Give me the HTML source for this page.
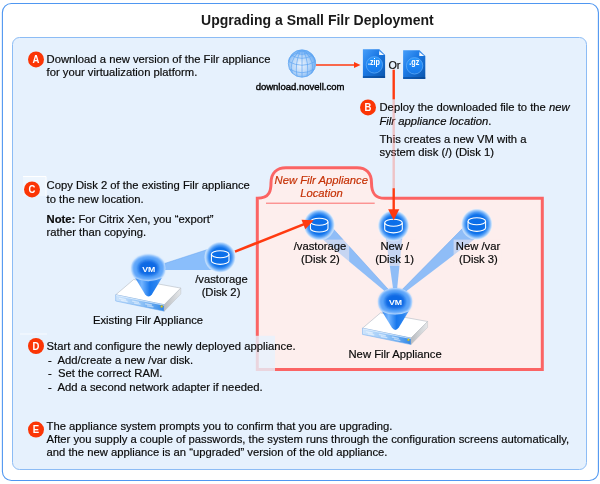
<!DOCTYPE html>
<html>
<head>
<meta charset="utf-8">
<title>Upgrading a Small Filr Deployment</title>
<style>
html,body{margin:0;padding:0;background:#fff;}
body{width:600px;height:484px;overflow:hidden;font-family:"Liberation Sans",sans-serif;}
svg{display:block;will-change:transform;opacity:0.999;}
text{font-family:"Liberation Sans",sans-serif;}
.t{font-size:11.25px;fill:#0a0a0a;stroke:#0a0a0a;stroke-width:0.18px;}
.b{font-weight:bold;}
.i{font-style:italic;}
.lbl{font-size:10.6px;font-weight:bold;fill:#fff;text-anchor:middle;}
</style>
</head>
<body>
<svg width="600" height="484" viewBox="0 0 600 484">
<defs>
  <radialGradient id="gDisk" cx="50%" cy="50%" r="50%">
    <stop offset="0" stop-color="#0a6de8"/>
    <stop offset="0.6" stop-color="#0f72ea"/>
    <stop offset="0.76" stop-color="#4f9cf6"/>
    <stop offset="0.9" stop-color="#a9d0fb"/>
    <stop offset="1" stop-color="#eaf4fe" stop-opacity="0.55"/>
  </radialGradient>
  <radialGradient id="gVM" cx="50%" cy="50%" r="50%">
    <stop offset="0" stop-color="#0a62dc"/>
    <stop offset="0.5" stop-color="#0f6fe8"/>
    <stop offset="0.72" stop-color="#4a9af6"/>
    <stop offset="0.9" stop-color="#9cc9fb"/>
    <stop offset="1" stop-color="#d8eafd" stop-opacity="0.5"/>
  </radialGradient>
  <linearGradient id="gCone" x1="0" y1="0" x2="1" y2="0">
    <stop offset="0" stop-color="#3587ee"/>
    <stop offset="0.25" stop-color="#74b5ff"/>
    <stop offset="0.55" stop-color="#1877ec"/>
    <stop offset="0.8" stop-color="#2a84f0"/>
    <stop offset="1" stop-color="#5aa2f6"/>
  </linearGradient>
  <linearGradient id="gFront" x1="0" y1="0" x2="1" y2="0">
    <stop offset="0" stop-color="#cfe5fc"/>
    <stop offset="0.55" stop-color="#8cc0f6"/>
    <stop offset="1" stop-color="#2f86e6"/>
  </linearGradient>
  <linearGradient id="gSide" x1="0" y1="0" x2="1" y2="0">
    <stop offset="0" stop-color="#b9bcc0"/>
    <stop offset="1" stop-color="#e6e8ea"/>
  </linearGradient>
  <radialGradient id="gGlobe" cx="45%" cy="55%" r="60%">
    <stop offset="0" stop-color="#eaf2fc"/>
    <stop offset="0.55" stop-color="#b5d5f8"/>
    <stop offset="1" stop-color="#5aa3f2"/>
  </radialGradient>
  <linearGradient id="gFile" x1="0" y1="0" x2="1" y2="1">
    <stop offset="0" stop-color="#479ef9"/>
    <stop offset="0.42" stop-color="#1c7ae6"/>
    <stop offset="1" stop-color="#0a55ac"/>
  </linearGradient>

  <filter id="b06" x="-20%" y="-20%" width="140%" height="140%"><feGaussianBlur stdDeviation="0.6"/></filter>
  <filter id="b12" x="-20%" y="-20%" width="140%" height="140%"><feGaussianBlur stdDeviation="1.4"/></filter>
  <filter id="b22" x="-40%" y="-40%" width="180%" height="180%"><feGaussianBlur stdDeviation="2.7"/></filter>
  <linearGradient id="gCirc" x1="0" y1="0" x2="0" y2="1">
    <stop offset="0" stop-color="#2b97fc"/>
    <stop offset="0.6" stop-color="#1a82f2"/>
    <stop offset="1" stop-color="#1878e6"/>
  </linearGradient>
  <!-- disk icon centred on 0,0 -->
  <g id="disk">
    <circle cx="0" cy="0" r="15.7" fill="url(#gDisk)"/>
    <path d="M-8.8,-3 L-8.8,3.6 A8.8,3.6 0 0 0 8.8,3.6 L8.8,-3" fill="none" stroke="#fff" stroke-width="1.1"/>
    <ellipse cx="0" cy="-3" rx="8.8" ry="3.5" fill="none" stroke="#fff" stroke-width="1.1"/>
  </g>

  <!-- VM + server, VM text centre at 0,0 -->
  <g id="vmsrv">
    <!-- server -->
    <polygon points="-32.8,26 -14.8,10.7 32.3,19.3 15.7,35.9" fill="#ffffff" stroke="#bcc3cc" stroke-width="0.7" stroke-linejoin="round"/>
    <polygon points="-32.8,26 15.7,35.9 15.7,42.4 -32.8,32.2" fill="url(#gFront)" stroke="#6aa9ee" stroke-width="0.5"/>
    <polygon points="15.7,35.9 32.3,19.3 32.3,25.2 15.7,42.4" fill="url(#gSide)" stroke="#b4b8bd" stroke-width="0.4"/>
    <path d="M-32.4,26.6 L15.5,36.4" stroke="#eef6ff" stroke-width="0.7" fill="none"/>
    <g stroke="#ffffff" stroke-opacity="0.5" stroke-width="1.3" fill="none" stroke-linecap="round">
      <path d="M-29,29.6 L-23,30.8 M-27,31.6 L-21.5,32.7"/>
      <path d="M-16,32.3 L-10,33.5 M-14,34.3 L-8.5,35.4"/>
      <path d="M-3,35 L3,36.2 M-1,37 L4.5,38.1"/>
    </g>
    <rect x="12.2" y="36.6" width="2" height="2" rx="0.6" fill="#e9d21f" stroke="#a89a20" stroke-width="0.3"/>
    <!-- cone -->
    <path d="M-13.4,9 L-3.5,25.4 Q0,30 3.5,25.4 L13.4,9 Q0,3 -13.4,9 Z" fill="url(#gCone)"/>
    <g transform="translate(-0.2,0)">
      <path d="M-17.2,-1 C-17.2,-9 -9.5,-14.3 0,-14.3 C9.5,-14.3 17.2,-9 17.2,-1 C17.2,3.5 15.8,6.8 13.4,9.2 Q0,15.6 -13.4,9.2 C-15.8,6.8 -17.2,3.5 -17.2,-1 Z" fill="#d6e9fe" filter="url(#b06)"/>
      <path transform="translate(0,-0.6) scale(0.94) translate(0,0.6)" d="M-17.2,-1 C-17.2,-9 -9.5,-14.3 0,-14.3 C9.5,-14.3 17.2,-9 17.2,-1 C17.2,3.5 15.8,6.8 13.4,9.2 Q0,15.6 -13.4,9.2 C-15.8,6.8 -17.2,3.5 -17.2,-1 Z" fill="#5ea6fa" filter="url(#b12)"/>
      <path transform="translate(0,-0.8) scale(0.6) translate(0,0.8)" d="M-17.2,-1 C-17.2,-9 -9.5,-14.3 0,-14.3 C9.5,-14.3 17.2,-9 17.2,-1 C17.2,3.5 15.8,6.8 13.4,9.2 Q0,15.6 -13.4,9.2 C-15.8,6.8 -17.2,3.5 -17.2,-1 Z" fill="#0a69e4" filter="url(#b22)"/>
    </g>
    <text transform="translate(0.2,2.9) scale(1.12,1)" font-size="7.8" font-weight="bold" fill="#fff" text-anchor="middle">VM</text>
  </g>

  <!-- file icon, top-left at 0,0; 22.5 x 28.5 -->
  <g id="file">
    <path d="M0,0 L16.4,0 L22.2,5.8 L22.2,28.7 L0,28.7 Z" fill="url(#gFile)"/>
    <path d="M16.2,1.8 L16.2,5.8 L21.2,5.8 Z" fill="#f2f8ff"/>
    <path d="M16.4,0 L22.2,5.8 L20.9,5.8 L16.4,1.3 Z" fill="#7db6f5" fill-opacity="0.6"/>
    <rect x="0" y="26.8" width="22.2" height="1.9" fill="#073f86" fill-opacity="0.5"/>
    <circle cx="11.5" cy="15.6" r="8.2" fill="url(#gCirc)" stroke="#5aa9f8" stroke-width="0.8"/>
  </g>
</defs>

<!-- frames -->
<rect x="2.4" y="3.5" width="596" height="477" rx="9" ry="9" fill="#fff" stroke="#4f97f1" stroke-width="1.1"/>
<rect x="12.5" y="37.5" width="574" height="432" rx="7" ry="7" fill="#e6f1fd" stroke="#8cbcf5" stroke-width="1"/>

<text x="317.4" y="24.5" font-size="14" font-weight="bold" fill="#1a1a1a" text-anchor="middle">Upgrading a Small Filr Deployment</text>

<!-- faint artefacts -->
<rect x="23" y="176" width="23" height="20" fill="#eef6fe"/>
<path d="M23,176.5 H46 V196" fill="none" stroke="#ffffff" stroke-width="1"/>
<path d="M20,334 H47" stroke="#f8fbff" stroke-width="1"/>

<!-- pink box with tab -->
<path d="M257.3,369.5 L257.3,198.3 C270,198.3 271,190 271,183 C271,173 277,167.7 286,167.7 L357,167.7 C366,167.7 371.5,173 371.5,183 C371.5,192 374,198.3 385,198.3 L542.3,198.3 L542.3,369.5 Z" fill="#fdeeed" stroke="#fb6464" stroke-width="3" stroke-linejoin="miter"/>
<path d="M266,203.2 H374.7" stroke="#fb6a6a" stroke-width="1"/>
<text x="321.3" y="183.7" class="t i" style="fill:#c63206;stroke:#c63206" text-anchor="middle">New Filr Appliance</text>
<text x="321.4" y="196.7" class="t i" style="fill:#c63206;stroke:#c63206" text-anchor="middle">Location</text>

<!-- beams -->
<g fill="#6fb0fa" fill-opacity="0.78">
  <polygon points="326,220.9 389,290.2 387,293 312,230.6"/>
  <polygon points="384,225 403.6,225 396.9,291 393.4,291"/>
  <polygon points="470,220.8 484,232 402,294.4 400,291.8"/>
  <polygon points="209,249 216,270 164.5,270 164.5,263.5"/>
</g>
<g stroke="#5f9ff0" stroke-opacity="0.55" stroke-width="0.8" fill="none"><path d="M326,220.9 L389,290.2"/><path d="M470,220.8 L400,291.8"/><path d="M164.5,263.5 L209,249"/></g>
<!-- label backgrounds -->
<rect x="293" y="239.6" width="56.2" height="26.4" fill="#fdeeed" fill-opacity="0.5"/>
<rect x="374" y="239.6" width="42" height="26.4" fill="#fdeeed" fill-opacity="0.5"/>
<rect x="453.6" y="239.6" width="48" height="26.4" fill="#fdeeed" fill-opacity="0.5"/>

<!-- icons -->
<use href="#disk" x="319.2" y="224.8"/>
<use href="#disk" x="393.5" y="225.7"/>
<use href="#disk" x="476.8" y="224.2"/>
<use href="#disk" x="220.2" y="257.2"/>
<use href="#vmsrv" x="148.5" y="268.8"/>
<use href="#vmsrv" x="395.3" y="302.2"/>

<!-- globe -->
<g>
  <circle cx="302" cy="63.5" r="13.7" fill="url(#gGlobe)" stroke="#5aa3f2" stroke-width="0.7"/>
  <g fill="none" stroke="#5aa3f2" stroke-width="0.65">
    <path d="M302,51 V77.2"/>
    <path d="M300.3,51 Q294.5,64 297,76.3"/>
    <path d="M303.7,51 Q309.5,64 307,76.3"/>
    <path d="M298.5,52 Q288.5,62 292.3,73.3"/>
    <path d="M305.5,52 Q315.5,62 311.7,73.3"/>
    <path d="M297.6,53 Q290,55 288.6,61"/>
    <path d="M306.4,53 Q314,55 315.4,61"/>
    <ellipse cx="302" cy="52.6" rx="4.4" ry="1.7"/>
    <path d="M291.2,55.2 Q302,61.5 312.8,55.2"/>
    <path d="M288.6,61.5 Q302,69 315.4,61.5"/>
    <path d="M289.6,69 Q302,76.5 314.4,69"/>
  </g>
</g>
<text x="300" y="89.8" font-size="9.5" fill="#000" stroke="#000" stroke-width="0.38" text-anchor="middle">download.novell.com</text>

<!-- arrow globe -> zip -->
<path d="M316,65 H356" stroke="#ff3a10" stroke-width="1.3"/>
<polygon points="360.5,65 354,62 354,68" fill="#ff3a10"/>

<!-- files -->
<use href="#file" x="362.9" y="49.3"/>
<text transform="translate(373.9,64.6) scale(0.8,1)" font-size="9" font-weight="bold" fill="#fff" text-anchor="middle">.zip</text>
<use href="#file" x="403.1" y="50.2"/>
<text transform="translate(414.3,65.4) scale(0.8,1)" font-size="9" font-weight="bold" fill="#fff" text-anchor="middle">.gz</text>
<text x="394.4" y="68.6" class="t" style="font-size:10.8px" text-anchor="middle">Or</text>

<!-- B text -->
<circle cx="368" cy="107.4" r="8" fill="#fb3505"/>
<text transform="translate(368.0,111.2) scale(0.9,1)" class="lbl">B</text>
<text x="379.5" y="111.4" class="t">Deploy the downloaded file to the <tspan class="i">new</tspan></text>
<text x="379.5" y="124.6" class="t i">Filr appliance location<tspan style="font-style:normal">.</tspan></text>
<text x="379.5" y="143.4" class="t">This creates a new VM with a</text>
<text x="379.5" y="156.4" class="t">system disk (/) (Disk 1)</text>

<!-- vertical arrow from Or -->
<path d="M393.7,69.7 V99.4" stroke="#ff3a10" stroke-width="2.4"/>
<path d="M393.7,99.4 V188.2" stroke="#ff6a5a" stroke-opacity="0.34" stroke-width="2.4"/>
<path d="M393.7,188.2 V211" stroke="#ff3a10" stroke-width="2.4"/>
<polygon points="393.7,220.2 388.1,209.3 399.3,209.3" fill="#ff3a10"/>

<!-- diagonal arrow -->
<path d="M235,251.6 L306,223.4" stroke="#ff3a10" stroke-width="2.6"/>
<polygon points="313.7,220.3 305.3,229.2 301.5,219.7" fill="#ff3a10"/>

<!-- overlay behind D text -->
<rect x="255" y="335.8" width="20" height="35.4" fill="#e6f1fd" fill-opacity="0.8"/>

<!-- labels in diagram -->
<text x="320" y="250" class="t" text-anchor="middle">/vastorage</text>
<text x="320.4" y="263.2" class="t" text-anchor="middle">(Disk 2)</text>
<text x="394.8" y="250" class="t" text-anchor="middle">New /</text>
<text x="394.6" y="263.2" class="t" text-anchor="middle">(Disk 1)</text>
<text x="478" y="250" class="t" text-anchor="middle">New /var</text>
<text x="478.4" y="263.2" class="t" text-anchor="middle">(Disk 3)</text>
<text x="395.1" y="358" class="t" text-anchor="middle">New Filr Appliance</text>
<text x="221.5" y="282.8" class="t" text-anchor="middle">/vastorage</text>
<text x="221" y="295.8" class="t" text-anchor="middle">(Disk 2)</text>
<text x="148" y="324" class="t" text-anchor="middle">Existing Filr Appliance</text>

<!-- A -->
<circle cx="36" cy="59.4" r="8" fill="#fb3505"/>
<text transform="translate(36.0,63.2) scale(0.9,1)" class="lbl">A</text>
<text x="46.6" y="63" class="t">Download a new version of the Filr appliance</text>
<text x="46.6" y="76.4" class="t">for your virtualization platform.</text>

<!-- C -->
<circle cx="32" cy="189.4" r="8" fill="#fb3505"/>
<text transform="translate(32.0,193.2) scale(0.9,1)" class="lbl">C</text>
<text x="46.6" y="189" class="t">Copy Disk 2 of the existing Filr appliance</text>
<text x="46.6" y="202.6" class="t">to the new location.</text>
<text x="46.6" y="222.6" class="t"><tspan class="b">Note:</tspan> For Citrix Xen, you “export”</text>
<text x="46.6" y="235.8" class="t">rather than copying.</text>

<!-- D -->
<circle cx="36" cy="346" r="8" fill="#fb3505"/>
<text transform="translate(36.0,349.8) scale(0.9,1)" class="lbl">D</text>
<text x="46.6" y="350" class="t">Start and configure the newly deployed appliance.</text>
<text x="48" y="363.6" class="t">-</text><text x="57.4" y="363.6" class="t">Add/create a new /var disk.</text>
<text x="48" y="377.2" class="t">-</text><text x="58" y="377.2" class="t">Set the correct RAM.</text>
<text x="48" y="390.6" class="t">-</text><text x="57.4" y="390.6" class="t">Add a second network adapter if needed.</text>

<!-- E -->
<circle cx="36" cy="429.6" r="8" fill="#fb3505"/>
<text transform="translate(36.0,433.4) scale(0.9,1)" class="lbl">E</text>
<text x="46.6" y="430" class="t">The appliance system prompts you to confirm that you are upgrading.</text>
<text x="46.6" y="443.2" class="t">After you supply a couple of passwords, the system runs through the configuration screens automatically,</text>
<text x="46.6" y="456.4" class="t">and the new appliance is an “upgraded” version of the old appliance.</text>
</svg>
</body>
</html>
